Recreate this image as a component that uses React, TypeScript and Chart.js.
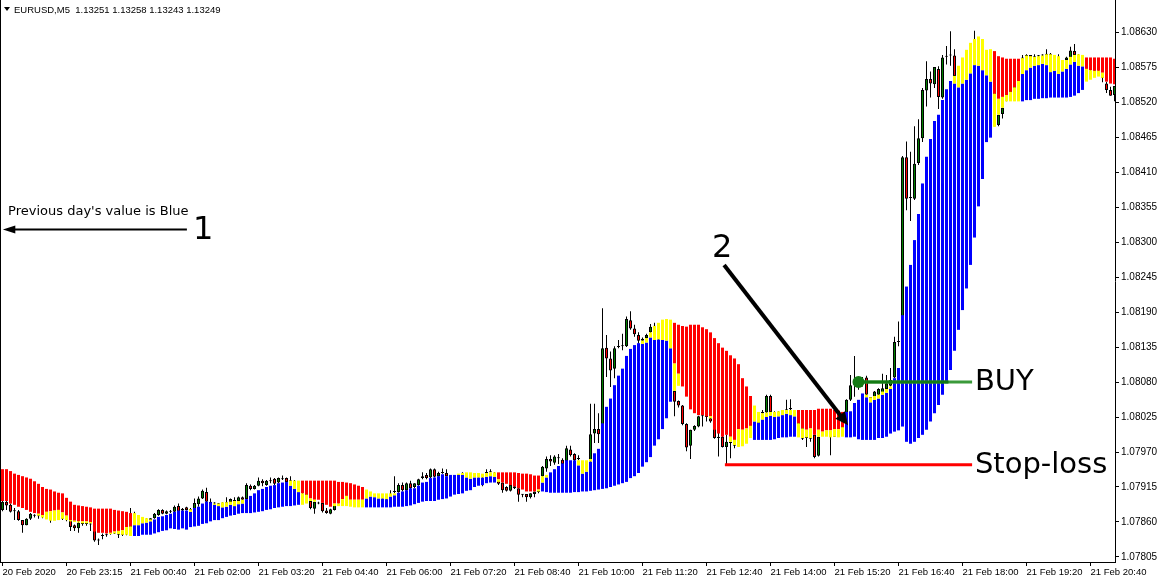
import React, { useEffect, useRef } from "react";
import { Chart, registerables } from "chart.js";

Chart.register(...registerables);

// Prices are stored as points (0.00001) above 1.07000
const BASE = 1.07;
const PT = 0.00001;

// Indicator bar colour per M5 bar: R = red (falling), B = blue (rising)
const barColors =
  "RRRRRRRRRRRRRRRRRRRRRRRRRRRRRRRRR" +
  "BBBBBBBBBBBBBBBBBBBBBBBBBBBBBBBBBBBBBBBBBB" +
  "RRRRRRRRRRRRRRRR" +
  "BBBBBBBBBBBBBBBBBBBBBBBBBBBBBBBBB" +
  "RRRRRRRRRRR" +
  "BBBBBBBBBBBBBBBBBBBBBBBBBBBBBBBBB" +
  "RRRRRRRRRRRRRRRRRRRR" +
  "BBBBBBBBBBB" +
  "RRRRRRRRRRRR" +
  "BBBBBBBBBBBBBBBBBBBBBBBBBBBBBBBBBBBBB" +
  "RRRRRRR" +
  "BBBBBBBBBBBBBBBB" +
  "RRRRRRRR";

const mainLo = [
  893, 893, 889, 887, 884, 882, 879, 876, 874, 873,
  871, 876, 877, 878, 879, 875, 870, 863, 862, 861,
  861, 861, 860, 845, 843, 843, 842, 843, 845, 846,
  847, 852, 853, 838, 838, 840, 840, 840, 842, 844,
  846, 847, 850, 849, 848, 850, 848, 852, 853, 854,
  857, 858, 861, 863, 863, 866, 868, 870, 871, 873,
  874, 874, 874, 875, 876, 877, 879, 880, 882, 883,
  884, 885, 885, 886, 887, 905, 903, 897, 895, 895,
  890, 887, 884, 889, 889, 896, 901, 895, 895, 895,
  895, 883, 883, 883, 883, 883, 883, 883, 884, 884,
  884, 885, 886, 888, 890, 892, 893, 893, 893, 895,
  896, 897, 900, 903, 904, 905, 909, 910, 915, 917,
  918, 921, 922, 922, 927, 922, 920, 918, 916, 913,
  911, 908, 908, 908, 911, 908, 907, 906, 906, 906,
  906, 906, 906, 907, 907, 908, 908, 909, 910, 911,
  912, 913, 915, 917, 919, 921, 923, 929, 932, 937,
  947, 954, 962, 980, 990, 1006, 1023, 1049, 1109, 1093,
  1073, 1057, 1037, 1031, 1028, 1028, 1026, 1026, 1005, 999,
  994, 997, 994, 989, 1006, 1005, 1007, 1011, 989, 989,
  989, 989, 989, 990, 992, 993, 993, 994, 994, 1015,
  1007, 1005, 1007, 997, 1005, 1002, 1004, 1004, 1006, 1006,
  1009, 993, 993, 994, 990, 989, 989, 989, 989, 992,
  992, 994, 999, 1002, 1004, 1010, 986, 983, 986, 992,
  997, 1005, 1018, 1031, 1044, 1060, 1078, 1099, 1129, 1162,
  1193, 1227, 1264, 1307, 1356, 1399, 1457, 1464, 1533, 1525,
  1528, 1531, 1536, 1543, 1553, 1521, 1523, 1523, 1525, 1525,
  1526, 1526, 1527, 1527, 1527, 1527, 1527, 1528, 1530, 1534,
  1539, 1572, 1570, 1569, 1569, 1566, 1552, 1549, 1548,
];

const mainHi = [
  943, 943, 940, 936, 934, 932, 930, 928, 924, 920,
  915, 912, 911, 908, 906, 905, 898, 892, 887, 886,
  885, 884, 883, 881, 881, 881, 881, 881, 879, 878,
  877, 876, 874, 855, 855, 858, 859, 861, 864, 868,
  869, 871, 873, 876, 878, 878, 878, 876, 882, 884,
  889, 892, 891, 887, 885, 883, 884, 887, 885, 888,
  889, 896, 901, 905, 910, 912, 915, 917, 918, 921,
  922, 923, 917, 912, 907, 925, 925, 925, 925, 925,
  925, 925, 925, 925, 923, 923, 922, 921, 919, 917,
  915, 897, 900, 899, 897, 897, 896, 900, 902, 906,
  908, 910, 913, 913, 917, 922, 923, 929, 930, 932,
  935, 932, 934, 934, 934, 934, 930, 928, 930, 930,
  930, 931, 932, 931, 938, 938, 938, 938, 938, 937,
  936, 936, 935, 933, 933, 922, 930, 938, 943, 948,
  952, 957, 957, 957, 949, 936, 939, 955, 968, 975,
  1015, 1041, 1054, 1075, 1090, 1101, 1121, 1132, 1138, 1141,
  1140, 1142, 1150, 1146, 1147, 1146, 1145, 1133, 1173, 1170,
  1168, 1167, 1170, 1170, 1170, 1166, 1163, 1158, 1149, 1141,
  1134, 1129, 1122, 1117, 1108, 1086, 1073, 1058, 1018, 1016,
  1021, 1025, 1027, 1025, 1026, 1028, 1030, 1028, 1026, 1036,
  1036, 1036, 1036, 1036, 1038, 1038, 1038, 1038, 1036, 1035,
  1033, 1033, 1034, 1047, 1052, 1062, 1056, 1048, 1052, 1054,
  1060, 1063, 1069, 1086, 1102, 1185, 1230, 1264, 1303, 1344,
  1392, 1434, 1462, 1490, 1500, 1523, 1540, 1553, 1549, 1543,
  1549, 1555, 1565, 1578, 1577, 1570, 1562, 1552, 1600, 1592,
  1590, 1588, 1588, 1588, 1588, 1564, 1570, 1574, 1577, 1578,
  1580, 1578, 1567, 1569, 1564, 1568, 1572, 1579, 1583, 1577,
  1576, 1590, 1590, 1590, 1590, 1590, 1590, 1590, 1588,
];

// Yellow segment of the indicator (0 = none)
const yelLo = [
  0, 0, 0, 0, 0, 0, 0, 0, 0, 870,
  867, 864, 862, 862, 863, 865, 863, 861, 860, 859,
  858, 858, 858, 0, 0, 0, 0, 841, 842, 841,
  840, 840, 838, 855, 855, 858, 859, 861, 0, 0,
  0, 0, 0, 0, 0, 0, 0, 876, 0, 0,
  0, 0, 0, 887, 885, 883, 884, 887, 885, 888,
  889, 0, 0, 0, 0, 0, 0, 0, 0, 0,
  0, 0, 917, 912, 907, 887, 889, 893, 892, 0,
  0, 0, 0, 885, 885, 885, 885, 884, 883, 883,
  883, 897, 900, 899, 897, 897, 896, 900, 902, 0,
  0, 0, 0, 0, 0, 0, 0, 0, 0, 0,
  0, 0, 0, 0, 934, 934, 930, 928, 930, 930,
  930, 931, 932, 931, 923, 0, 0, 0, 0, 0,
  0, 0, 0, 0, 908, 922, 930, 0, 0, 0,
  0, 0, 0, 0, 949, 936, 939, 955, 0, 0,
  0, 0, 0, 0, 0, 0, 0, 0, 0, 0,
  1140, 1142, 1150, 1146, 1147, 1146, 1145, 1133, 1066, 1074,
  0, 0, 0, 0, 0, 0, 0, 1023, 0, 0,
  0, 0, 986, 981, 978, 979, 983, 992, 1018, 1016,
  1021, 1025, 1027, 1025, 1026, 1028, 1030, 1028, 1026, 993,
  992, 993, 992, 0, 994, 994, 994, 993, 994, 993,
  994, 0, 0, 0, 0, 0, 1056, 1048, 1052, 1054,
  1060, 1063, 1069, 0, 0, 0, 0, 0, 0, 0,
  0, 0, 0, 0, 0, 0, 0, 0, 1549, 1543,
  1549, 1555, 1565, 1578, 1577, 1570, 1562, 1552, 1481, 1500,
  1511, 1521, 1521, 1521, 1521, 1564, 1570, 1574, 1577, 1578,
  1580, 1578, 1567, 1569, 1564, 1568, 1572, 1579, 1583, 1577,
  1576, 1552, 1555, 1558, 1560, 1558, 0, 0, 0,
];

const yelHi = [
  0, 0, 0, 0, 0, 0, 0, 0, 0, 873,
  871, 876, 877, 878, 879, 875, 870, 863, 862, 861,
  861, 861, 860, 0, 0, 0, 0, 843, 845, 846,
  847, 852, 853, 874, 871, 868, 866, 864, 0, 0,
  0, 0, 0, 0, 0, 0, 0, 880, 0, 0,
  0, 0, 0, 889, 889, 891, 891, 892, 893, 893,
  895, 0, 0, 0, 0, 0, 0, 0, 0, 0,
  0, 0, 925, 925, 925, 905, 903, 897, 895, 0,
  0, 0, 0, 889, 889, 896, 901, 895, 895, 895,
  895, 911, 908, 905, 905, 905, 905, 905, 905, 0,
  0, 0, 0, 0, 0, 0, 0, 0, 0, 0,
  0, 0, 0, 0, 936, 937, 938, 938, 937, 937,
  936, 937, 938, 938, 927, 0, 0, 0, 0, 0,
  0, 0, 0, 0, 911, 932, 934, 0, 0, 0,
  0, 0, 0, 0, 957, 957, 957, 959, 0, 0,
  0, 0, 0, 0, 0, 0, 0, 0, 0, 0,
  1145, 1149, 1158, 1168, 1173, 1178, 1179, 1178, 1109, 1093,
  0, 0, 0, 0, 0, 0, 0, 1026, 0, 0,
  0, 0, 994, 989, 1006, 1005, 1007, 1011, 1043, 1033,
  1031, 1032, 1033, 1033, 1034, 1036, 1036, 1036, 1036, 1015,
  1007, 1005, 1007, 0, 1005, 1002, 1004, 1004, 1006, 1006,
  1009, 0, 0, 0, 0, 0, 1060, 1056, 1058, 1060,
  1065, 1069, 1073, 0, 0, 0, 0, 0, 0, 0,
  0, 0, 0, 0, 0, 0, 0, 0, 1561, 1577,
  1590, 1602, 1613, 1619, 1623, 1619, 1602, 1603, 1533, 1525,
  1528, 1531, 1536, 1543, 1553, 1589, 1593, 1592, 1591, 1592,
  1593, 1595, 1595, 1594, 1592, 1586, 1586, 1591, 1594, 1595,
  1594, 1572, 1570, 1569, 1569, 1566, 0, 0, 0,
];

// EURUSD M5 candles
const open = [
  879, 892, 887, 878, 877, 863, 855, 865, 871, 870,
  869, 868, 866, 865, 866, 866, 864, 863, 855, 850,
  858, 857, 857, 852, 831, 838, 839, 841, 842, 841,
  840, 841, 845, 872, 868, 866, 864, 862, 866, 871,
  879, 873, 877, 876, 885, 878, 883, 879, 879, 888,
  897, 907, 892, 890, 889, 888, 889, 891, 893, 893,
  899, 896, 917, 912, 917, 925, 918, 924, 928, 922,
  927, 929, 924, 925, 922, 915, 905, 893, 881, 890,
  890, 878, 873, 879, 887, 888, 890, 892, 891, 893,
  892, 893, 894, 893, 894, 895, 896, 903, 907, 907,
  918, 910, 921, 915, 918, 929, 934, 930, 943, 932,
  937, 937, 932, 931, 933, 936, 936, 934, 932, 933,
  932, 937, 938, 937, 925, 922, 915, 909, 916, 913,
  903, 904, 899, 904, 908, 932, 944, 959, 953, 960,
  958, 956, 974, 967, 960, 955, 950, 957, 999, 1006,
  998, 1134, 1117, 1101, 1135, 1136, 1136, 1177, 1164, 1154,
  1145, 1149, 1158, 1167, 1168, 1150, 1120, 1095, 1066, 1050,
  1043, 1014, 980, 1005, 1010, 1026, 1026, 1023, 1018, 994,
  994, 978, 985, 981, 980, 983, 988, 993, 1003, 1012,
  1033, 1032, 1058, 1033, 1030, 1032, 1034, 1037, 1035, 1030,
  1008, 993, 991, 997, 964, 996, 998, 995, 994, 998,
  1002, 1030, 1052, 1075, 1076, 1080, 1087, 1056, 1057, 1060,
  1063, 1069, 1074, 1087, 1143, 1145, 1433, 1369, 1368, 1424,
  1463, 1538, 1556, 1548, 1572, 1527, 1591, 1593, 1593, 1561,
  1565, 1575, 1590, 1605, 1618, 1610, 1595, 1580, 1560, 1484,
  1501, 1522, 1528, 1538, 1548, 1575, 1590, 1594, 1588, 1592,
  1593, 1593, 1596, 1588, 1585, 1586, 1586, 1590, 1600, 1594,
  1590, 1585, 1580, 1570, 1565, 1563, 1549, 1539, 1531,
];

const high = [
  895, 895, 889, 882, 879, 863, 866, 874, 872, 871,
  870, 872, 866, 868, 868, 867, 865, 870, 856, 861,
  859, 859, 858, 854, 834, 842, 842, 843, 843, 842,
  843, 845, 882, 876, 870, 867, 866, 866, 874, 880,
  880, 878, 879, 886, 889, 882, 884, 882, 897, 900,
  911, 914, 897, 891, 890, 891, 899, 897, 899, 900,
  900, 921, 919, 918, 930, 927, 926, 930, 929, 930,
  933, 930, 932, 926, 923, 916, 906, 894, 892, 892,
  890, 882, 881, 888, 889, 891, 893, 893, 894, 894,
  894, 895, 895, 895, 896, 897, 898, 910, 932, 921,
  922, 922, 925, 921, 928, 938, 937, 944, 944, 939,
  944, 943, 934, 934, 935, 938, 937, 936, 935, 935,
  934, 943, 943, 938, 925, 922, 916, 918, 916, 913,
  904, 904, 905, 908, 909, 948, 963, 965, 965, 967,
  960, 980, 980, 968, 965, 956, 952, 1046, 1046, 1031,
  1196, 1154, 1128, 1136, 1146, 1156, 1183, 1191, 1170, 1158,
  1150, 1156, 1171, 1173, 1170, 1152, 1125, 1100, 1066, 1051,
  1044, 1015, 1005, 1012, 1027, 1028, 1026, 1024, 1018, 1002,
  999, 997, 986, 982, 985, 990, 995, 1005, 1015, 1031,
  1036, 1060, 1060, 1034, 1034, 1036, 1052, 1053, 1036, 1034,
  1010, 993, 992, 997, 994, 1000, 1002, 996, 1000, 1004,
  1012, 1053, 1091, 1121, 1082, 1088, 1090, 1056, 1066, 1070,
  1093, 1091, 1102, 1151, 1175, 1435, 1458, 1442, 1482, 1493,
  1542, 1584, 1568, 1575, 1576, 1594, 1608, 1631, 1603, 1570,
  1580, 1595, 1610, 1632, 1622, 1615, 1600, 1585, 1565, 1500,
  1511, 1530, 1540, 1550, 1570, 1594, 1595, 1594, 1595, 1594,
  1595, 1603, 1597, 1592, 1595, 1586, 1591, 1607, 1611, 1595,
  1593, 1588, 1585, 1575, 1570, 1565, 1552, 1544, 1545,
];

const low = [
  877, 879, 875, 863, 862, 843, 855, 863, 867, 865,
  866, 866, 859, 863, 864, 863, 861, 846, 846, 843,
  854, 854, 846, 829, 824, 833, 837, 840, 841, 835,
  838, 839, 843, 866, 864, 862, 861, 861, 865, 870,
  872, 872, 874, 875, 875, 877, 878, 878, 878, 884,
  896, 889, 889, 887, 886, 886, 888, 890, 892, 892,
  894, 895, 910, 911, 916, 916, 917, 921, 918, 921,
  926, 923, 922, 920, 912, 903, 893, 880, 873, 888,
  875, 873, 872, 878, 886, 887, 889, 889, 890, 891,
  891, 892, 892, 892, 892, 893, 894, 902, 905, 906,
  908, 909, 911, 913, 917, 927, 927, 929, 930, 931,
  936, 932, 930, 930, 932, 935, 931, 930, 931, 930,
  916, 936, 938, 932, 918, 906, 908, 908, 912, 892,
  899, 892, 897, 899, 905, 925, 939, 948, 950, 951,
  947, 955, 963, 955, 957, 945, 940, 952, 984, 984,
  996, 1088, 1072, 1086, 1133, 1130, 1135, 1162, 1151, 1140,
  1144, 1146, 1156, 1166, 1145, 1115, 1090, 1060, 1026, 1040,
  1012, 971, 959, 1003, 1009, 1010, 1018, 1016, 991, 963,
  977, 950, 960, 976, 979, 981, 986, 992, 1000, 1010,
  1030, 1031, 1031, 1028, 1027, 1029, 1033, 1036, 1028, 1005,
  989, 978, 986, 960, 963, 995, 996, 965, 994, 996,
  1000, 1028, 1050, 1057, 1068, 1073, 1058, 1050, 1056, 1059,
  1062, 1067, 1073, 1086, 1136, 1140, 1350, 1333, 1366, 1421,
  1457, 1513, 1527, 1542, 1509, 1525, 1579, 1577, 1561, 1550,
  1560, 1570, 1585, 1600, 1600, 1590, 1575, 1555, 1482, 1482,
  1494, 1521, 1524, 1535, 1545, 1570, 1588, 1585, 1586, 1589,
  1590, 1591, 1585, 1580, 1583, 1578, 1584, 1589, 1593, 1585,
  1580, 1575, 1565, 1562, 1561, 1551, 1534, 1530, 1521,
];

const close = [
  892, 886, 876, 877, 863, 855, 865, 873, 870, 869,
  868, 870, 865, 866, 866, 865, 863, 852, 850, 859,
  857, 858, 856, 831, 832, 838, 840, 841, 842, 840,
  841, 842, 872, 868, 866, 864, 863, 866, 873, 879,
  873, 877, 876, 884, 876, 881, 879, 880, 890, 897,
  909, 892, 890, 889, 888, 890, 891, 896, 894, 899,
  895, 918, 912, 917, 925, 921, 925, 924, 920, 929,
  927, 923, 925, 922, 915, 905, 895, 882, 892, 889,
  877, 874, 880, 887, 888, 890, 892, 891, 893, 892,
  893, 894, 893, 894, 895, 896, 897, 904, 908, 918,
  910, 921, 913, 921, 927, 932, 929, 943, 931, 937,
  937, 932, 931, 933, 934, 936, 934, 932, 933, 932,
  931, 938, 939, 936, 920, 910, 909, 918, 913, 903,
  904, 899, 905, 908, 907, 947, 959, 955, 963, 960,
  951, 976, 965, 957, 959, 950, 948, 998, 1006, 998,
  1133, 1117, 1098, 1133, 1136, 1137, 1179, 1164, 1155, 1145,
  1148, 1154, 1167, 1168, 1150, 1120, 1095, 1066, 1049, 1043,
  1014, 977, 1005, 1011, 1026, 1026, 1025, 1018, 992, 992,
  978, 986, 984, 980, 983, 988, 993, 1003, 1012, 1030,
  1031, 1058, 1033, 1030, 1032, 1034, 1037, 1039, 1030, 1008,
  991, 992, 991, 962, 994, 998, 999, 994, 998, 1002,
  1010, 1052, 1075, 1076, 1079, 1080, 1060, 1055, 1065, 1069,
  1070, 1078, 1083, 1143, 1143, 1433, 1368, 1369, 1423, 1463,
  1539, 1556, 1549, 1575, 1528, 1590, 1592, 1593, 1561, 1565,
  1575, 1590, 1605, 1618, 1610, 1595, 1580, 1560, 1485, 1500,
  1511, 1528, 1538, 1548, 1565, 1590, 1594, 1588, 1592, 1593,
  1593, 1596, 1588, 1585, 1586, 1584, 1590, 1601, 1594, 1590,
  1585, 1580, 1570, 1565, 1563, 1558, 1539, 1530, 1545,
];

const timeLabels = [
  "20 Feb 2020", "20 Feb 23:15", "21 Feb 00:40", "21 Feb 02:00", "21 Feb 03:20",
  "21 Feb 04:40", "21 Feb 06:00", "21 Feb 07:20", "21 Feb 08:40", "21 Feb 10:00",
  "21 Feb 11:20", "21 Feb 12:40", "21 Feb 14:00", "21 Feb 15:20", "21 Feb 16:40",
  "21 Feb 18:00", "21 Feb 19:20", "21 Feb 20:40",
];
const timeTickBars = [0, 16, 32, 48, 64, 80, 96, 112, 128, 144, 160, 176, 192, 208, 224, 240, 256, 272];

const priceLabels = [
  "1.07805", "1.07860", "1.07915", "1.07970", "1.08025", "1.08080", "1.08135", "1.08190",
  "1.08245", "1.08300", "1.08355", "1.08410", "1.08465", "1.08520", "1.08575", "1.08630",
];

const price = (v: number) => BASE + v * PT;

const FONT = '"DejaVu Sans", sans-serif';
const AXIS_FONT = '"Liberation Sans", Arial, sans-serif';

const notesPlugin = {
  id: "notes",
  afterDraw(chart: any) {
    const { ctx, chartArea } = chart;
    const xs = chart.scales.x;
    const ys = chart.scales.y;
    const X = (b: number) => xs.getPixelForValue(b);
    const Y = (p: number) => ys.getPixelForValue(p);
    ctx.save();

    // left frame
    ctx.strokeStyle = "#000";
    ctx.lineWidth = 1;
    ctx.beginPath();
    ctx.moveTo(0.5, 0);
    ctx.lineTo(0.5, chartArea.bottom);
    ctx.stroke();

    // header
    ctx.fillStyle = "#000";
    ctx.textBaseline = "middle";
    ctx.textAlign = "left";
    ctx.beginPath();
    ctx.moveTo(4, 7);
    ctx.lineTo(10, 7);
    ctx.lineTo(7, 11);
    ctx.closePath();
    ctx.fill();
    ctx.font = `9.5px ${AXIS_FONT}`;
    ctx.fillText("EURUSD,M5  1.13251 1.13258 1.13243 1.13249", 14, 10);

    // note 1
    ctx.font = `13px ${FONT}`;
    ctx.fillText("Previous day's value is Blue", X(1.4), Y(1.08347));
    const y1 = Math.round(Y(1.0832)) + 0.5;
    ctx.lineWidth = 2;
    ctx.beginPath();
    ctx.moveTo(X(46.1), y1);
    ctx.lineTo(X(1.5), y1);
    ctx.stroke();
    ctx.beginPath();
    ctx.moveTo(X(0.1), y1);
    ctx.lineTo(X(3.2), y1 - 4);
    ctx.lineTo(X(3.2), y1 + 4);
    ctx.closePath();
    ctx.fill();
    ctx.font = `32px ${FONT}`;
    ctx.fillText("1", X(47.6), y1 + 1);

    // note 2 with arrow
    ctx.fillText("2", X(177.4), Y(1.08289));
    const ax0 = X(180.4), ay0 = Y(1.08264), ax1 = X(211.4), ay1 = Y(1.08012);
    const ang = Math.atan2(ay1 - ay0, ax1 - ax0);
    ctx.lineWidth = 4;
    ctx.beginPath();
    ctx.moveTo(ax0, ay0);
    ctx.lineTo(ax1 - 8 * Math.cos(ang), ay1 - 8 * Math.sin(ang));
    ctx.stroke();
    ctx.beginPath();
    ctx.moveTo(ax1, ay1);
    ctx.lineTo(ax1 - 13 * Math.cos(ang) + 6 * Math.sin(ang), ay1 - 13 * Math.sin(ang) - 6 * Math.cos(ang));
    ctx.lineTo(ax1 - 13 * Math.cos(ang) - 6 * Math.sin(ang), ay1 - 13 * Math.sin(ang) + 6 * Math.cos(ang));
    ctx.closePath();
    ctx.fill();

    // stop-loss
    const ySL = Y(1.0795);
    ctx.strokeStyle = "#ff0000";
    ctx.lineWidth = 3;
    ctx.beginPath();
    ctx.moveTo(X(180.6), ySL);
    ctx.lineTo(X(242.4), ySL);
    ctx.stroke();

    // buy
    const yB = Y(1.0808);
    ctx.strokeStyle = "#3a9a3a";
    ctx.lineWidth = 3;
    ctx.beginPath();
    ctx.moveTo(X(214), yB);
    ctx.lineTo(X(242.4), yB);
    ctx.stroke();
    ctx.strokeStyle = "#137a13";
    ctx.beginPath();
    ctx.moveTo(X(214), yB);
    ctx.lineTo(X(236.5), yB);
    ctx.stroke();
    ctx.fillStyle = "#137a13";
    ctx.beginPath();
    ctx.arc(X(214), yB, 6, 0, Math.PI * 2);
    ctx.fill();

    ctx.fillStyle = "#000";
    ctx.font = `29px ${FONT}`;
    ctx.fillText("BUY", X(243.1), yB);
    ctx.fillText("Stop-loss", X(243.1), ySL + 1);
    ctx.restore();
  },
};

export default function App() {
  const ref = useRef<HTMLCanvasElement>(null);

  useEffect(() => {
    const n = barColors.length;
    const mainData: any[] = [];
    const mainBg: string[] = [];
    const yelData: any[] = [];
    const bodyData: any[] = [];
    const bodyBg: string[] = [];
    const wickData: any[] = [];
    for (let i = 0; i < n; i++) {
      mainData.push({ x: i, y: [price(mainLo[i]), price(mainHi[i])] });
      mainBg.push(barColors[i] === "R" ? "#ff0000" : "#0000ff");
      if (yelHi[i] > 0) yelData.push({ x: i, y: [price(yelLo[i]), price(yelHi[i])] });
      bodyData.push({ x: i, y: [price(open[i]), price(close[i])] });
      bodyBg.push(close[i] > open[i] ? "#008000" : close[i] < open[i] ? "#ff0000" : "#000000");
      wickData.push({ x: i, y: [price(low[i]), price(high[i])] });
    }

    const common = {
      grouped: false,
      inflateAmount: 0,
      borderSkipped: false,
    };

    const chart = new Chart(ref.current as HTMLCanvasElement, {
      type: "bar",
      data: {
        datasets: [
          { ...common, label: "yellow", data: yelData, backgroundColor: "#ffff00", barThickness: 3, order: 0 },
          { ...common, label: "trend", data: mainData, backgroundColor: mainBg, barThickness: 3, order: 1 },
          {
            ...common,
            label: "body",
            data: bodyData,
            backgroundColor: bodyBg,
            borderColor: "#000000",
            borderWidth: 1,
            barThickness: 3,
            minBarLength: 1,
            order: 2,
          },
          { ...common, label: "wick", data: wickData, backgroundColor: "#000000", barThickness: 1, order: 3 },
        ] as any,
      },
      plugins: [notesPlugin],
      options: {
        animation: false,
        responsive: false,
        devicePixelRatio: 1,
        layout: { padding: 0 },
        plugins: { legend: { display: false }, tooltip: { enabled: false } },
        scales: {
          x: {
            type: "linear",
            position: "bottom",
            offset: false,
            min: -0.625,
            max: 278.125,
            grid: { display: true, drawOnChartArea: false, drawTicks: true, tickLength: 4, color: "#000", offset: false },
            border: { display: true, color: "#000", width: 1 },
            ticks: {
              autoSkip: false,
              maxRotation: 0,
              minRotation: 0,
              align: "start",
              padding: 1,
              color: "#000",
              font: { family: AXIS_FONT, size: 9.5 },
              callback: (_v: any, idx: number) => timeLabels[idx],
            },
            afterBuildTicks: (s: any) => {
              s.ticks = timeTickBars.map((v) => ({ value: v }));
            },
            afterFit: (s: any) => {
              s.height = 18;
              s.paddingLeft = 0;
              s.paddingRight = 0;
            },
          },
          y: {
            type: "linear",
            position: "right",
            min: 1.0779714,
            max: 1.086803,
            grid: { display: true, drawOnChartArea: false, drawTicks: true, tickLength: 4, color: "#000" },
            border: { display: true, color: "#000", width: 1 },
            ticks: {
              padding: 2,
              color: "#000",
              font: { family: AXIS_FONT, size: 10 },
              callback: (_v: any, idx: number) => priceLabels[idx],
            },
            afterBuildTicks: (s: any) => {
              s.ticks = priceLabels.map((l) => ({ value: parseFloat(l) }));
            },
            afterFit: (s: any) => {
              s.width = 47;
              s.paddingTop = 0;
              s.paddingBottom = 0;
            },
          },
        },
      } as any,
    });
    return () => chart.destroy();
  }, []);

  return (
    <div style={{ position: "fixed", left: 0, top: 0, width: 1162, height: 580, background: "#fff" }}>
      <canvas ref={ref} width={1162} height={580} style={{ display: "block" }} />
    </div>
  );
}
